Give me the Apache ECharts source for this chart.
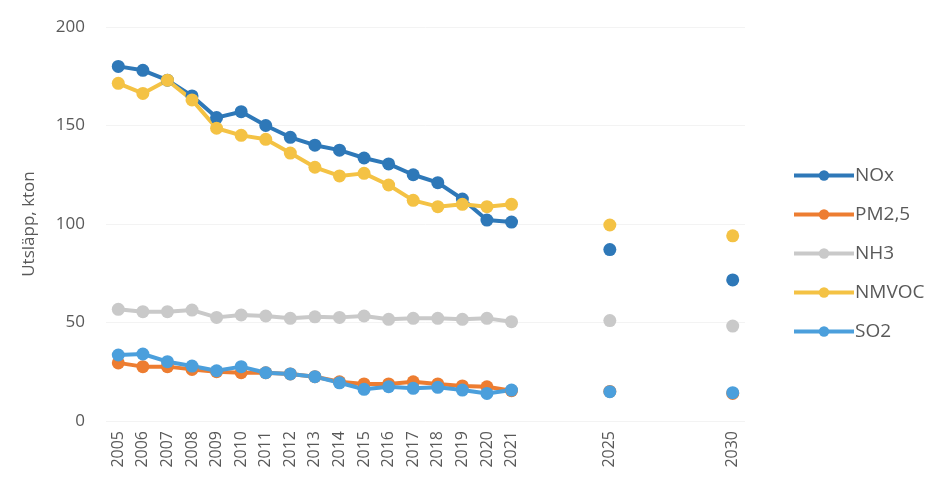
<!DOCTYPE html>
<html>
<head>
<meta charset="utf-8">
<script src="https://cdn.jsdelivr.net/npm/echarts@6/dist/echarts.min.js"></script>
<style>
  html, body { margin: 0; padding: 0; background: #ffffff; }
  #chart { width: 946px; height: 488px; }
</style>
</head>
<body>
<div id="chart"></div>
<script>
// Years on the category axis; only the years with data get a label
const years = [2005, 2006, 2007, 2008, 2009, 2010, 2011, 2012, 2013, 2014, 2015, 2016, 2017,
  2018, 2019, 2020, 2021, 2022, 2023, 2024, 2025, 2026, 2027, 2028, 2029, 2030];
const shownYears = [2005, 2006, 2007, 2008, 2009, 2010, 2011, 2012, 2013, 2014, 2015, 2016,
  2017, 2018, 2019, 2020, 2021, 2025, 2030];

// Emissions, kton (null = no value for that year)
const nox = [180, 178, 173, 165, 154, 157, 150, 144, 140, 137.5, 133.5, 130.5, 125, 121, 112.7, 102, 101,
  null, null, null, 87, null, null, null, null, 71.6];
const pm25 = [29.5, 27.6, 27.6, 26.2, 25, 24.5, 24.5, 23.9, 22.5, 19.9, 18.8, 18.8, 19.9, 18.8, 17.8, 17.4, 15.4,
  null, null, null, 15, null, null, null, null, 14];
const nh3 = [56.7, 55.5, 55.5, 56.3, 52.6, 53.8, 53.3, 52.1, 52.9, 52.6, 53.3, 51.6, 52.1, 52.1, 51.6, 52.1, 50.4,
  null, null, null, 51, null, null, null, null, 48.2];
const nmvoc = [171.4, 166.3, 173, 163, 148.6, 145, 143, 136, 128.8, 124.4, 125.7, 119.8, 112, 108.8, 110, 108.8, 110,
  null, null, null, 99.5, null, null, null, null, 94];
const so2 = [33.5, 34, 30.1, 27.9, 25.5, 27.6, 24.5, 23.9, 22.5, 19.4, 16.1, 17.4, 16.6, 17.1, 15.7, 14, 15.7,
  null, null, null, 14.9, null, null, null, null, 14.4];

const yTicks = [0, 50, 100, 150, 200];

const seriesDefs = [
  { name: 'NOx', data: nox, color: '#2e78b8' },
  { name: 'PM2,5', data: pm25, color: '#ed7d31' },
  { name: 'NH3', data: nh3, color: '#c9c9c9' },
  { name: 'NMVOC', data: nmvoc, color: '#f4c244' },
  { name: 'SO2', data: so2, color: '#4b9fdc' }
];

const font = '"Open Sans", "Liberation Sans", sans-serif';
const chart = echarts.init(document.getElementById('chart'), null, { renderer: 'canvas' });

chart.setOption({
  animation: false,
  backgroundColor: '#ffffff',
  grid: { left: 106, right: 201, top: 27, bottom: 67 },
  legend: {
    orient: 'vertical',
    left: 787,
    top: 161,
    itemWidth: 60,
    itemHeight: 13,
    itemGap: 20,
    lineStyle: { width: 4 },
    textStyle: { fontFamily: font, fontSize: 19, color: '#595959', padding: [0, 0, 0, -4] },
    data: seriesDefs.map(s => s.name)
  },
  xAxis: {
    type: 'category',
    data: years.map(String),
    boundaryGap: true,
    axisLine: { show: false },
    axisTick: { show: false },
    axisLabel: {
      rotate: 90,
      interval: 0,
      margin: 10,
      fontFamily: font,
      fontSize: 16,
      color: '#595959',
      formatter: v => (shownYears.indexOf(Number(v)) >= 0 ? v : '')
    }
  },
  yAxis: {
    type: 'value',
    min: yTicks[0],
    max: yTicks[yTicks.length - 1],
    interval: 50,
    name: 'Utsläpp, kton',
    nameLocation: 'middle',
    nameGap: 68,
    nameTextStyle: { fontFamily: font, fontSize: 17, color: '#595959' },
    axisLine: { show: false },
    axisTick: { show: false },
    axisLabel: { fontFamily: font, fontSize: 17, color: '#595959', margin: 21 },
    splitLine: { lineStyle: { color: '#f3f3f3', width: 1 } }
  },
  series: seriesDefs.map(s => ({
    name: s.name,
    type: 'line',
    data: s.data,
    connectNulls: false,
    symbol: 'circle',
    symbolSize: 13,
    color: s.color,
    lineStyle: { width: 4, color: s.color },
    itemStyle: { color: s.color }
  }))
});
</script>
</body>
</html>
